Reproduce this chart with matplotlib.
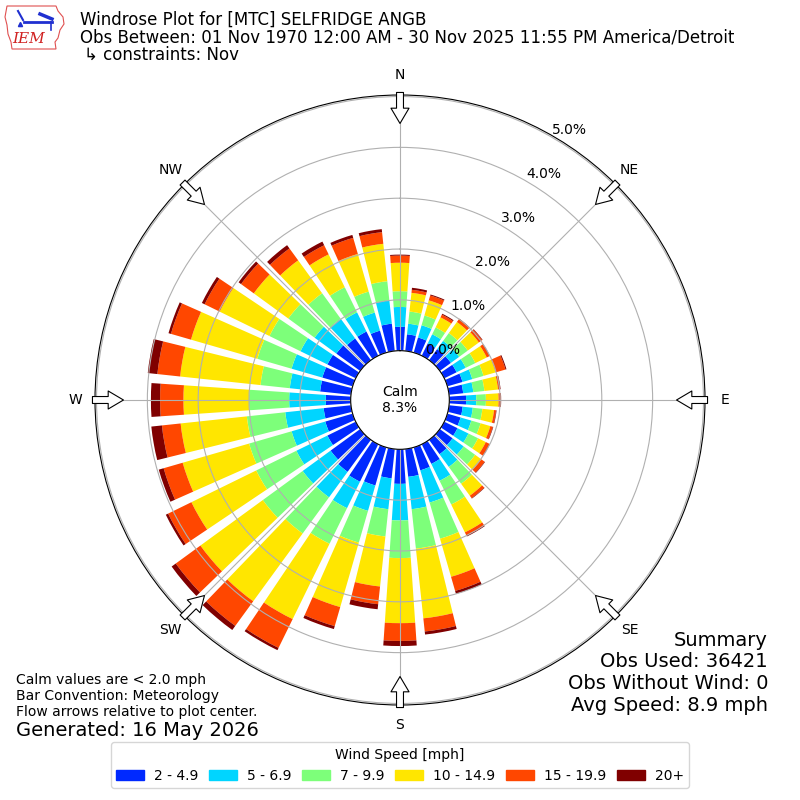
import numpy as np
import matplotlib
matplotlib.use("Agg")
import matplotlib.pyplot as plt
from matplotlib.patches import Patch, Polygon

# direction bins (deg, meteorological) and speed classes
directions = np.arange(0, 360, 10)
speed_labels = ["2 - 4.9", "5 - 6.9", "7 - 9.9", "10 - 14.9", "15 - 19.9", "20+"]

# frequency [%] per direction for each speed class
spd_2_5 = [0.47, 0.33, 0.31, 0.27, 0.27, 0.27, 0.27, 0.31, 0.28, 0.33, 0.27, 0.27,
           0.29, 0.31, 0.35, 0.43, 0.47, 0.55, 0.68, 0.58, 0.78, 0.82, 0.78, 0.72,
           0.62, 0.56, 0.54, 0.49, 0.61, 0.62, 0.62, 0.58, 0.53, 0.53, 0.45, 0.54]
spd_5_7 = [0.39, 0.21, 0.25, 0.20, 0.20, 0.20, 0.20, 0.20, 0.20, 0.20, 0.20, 0.22,
           0.24, 0.27, 0.31, 0.37, 0.66, 0.64, 0.72, 0.61, 0.52, 0.58, 0.62, 0.68,
           0.68, 0.69, 0.76, 0.72, 0.60, 0.63, 0.59, 0.53, 0.48, 0.42, 0.37, 0.46]
spd_7_10 = [0.31, 0.24, 0.20, 0.15, 0.19, 0.21, 0.21, 0.23, 0.22, 0.19, 0.19, 0.19,
            0.21, 0.28, 0.41, 0.52, 0.74, 0.78, 0.74, 0.54, 0.65, 0.78, 0.88, 0.97,
            0.88, 0.87, 0.76, 0.79, 0.58, 0.70, 0.68, 0.64, 0.62, 0.55, 0.43, 0.38]
spd_10_15 = [0.56, 0.37, 0.31, 0.22, 0.27, 0.27, 0.25, 0.25, 0.27, 0.25, 0.23, 0.20,
             0.17, 0.15, 0.29, 0.61, 0.78, 1.38, 1.28, 0.99, 1.32, 1.65, 1.65, 1.52,
             1.42, 1.36, 1.31, 1.29, 1.59, 1.36, 1.09, 0.84, 0.80, 0.72, 0.77, 0.74]
spd_15_20 = [0.14, 0.06, 0.10, 0.06, 0.07, 0.08, 0.06, 0.20, 0.04, 0.04, 0.04, 0.05,
             0.08, 0.08, 0.06, 0.07, 0.29, 0.26, 0.35, 0.35, 0.39, 0.63, 0.60, 0.60,
             0.51, 0.39, 0.37, 0.46, 0.45, 0.41, 0.33, 0.31, 0.29, 0.20, 0.33, 0.23]
spd_20p = [0.02, 0.04, 0.02, 0.02, 0.01, 0.01, 0.01, 0.02, 0.01, 0.01, 0.01, 0.01,
           0.01, 0.01, 0.01, 0.02, 0.06, 0.06, 0.10, 0.10, 0.06, 0.05, 0.10, 0.10,
           0.05, 0.10, 0.21, 0.18, 0.19, 0.05, 0.06, 0.06, 0.08, 0.08, 0.06, 0.06]

calm_pct = 8.3
rings = [0, 1, 2, 3, 4, 5]
compass = ["N", "NE", "E", "SE", "S", "SW", "W", "NW"]


def main():
    series = [spd_2_5, spd_5_7, spd_7_10, spd_10_15, spd_15_20, spd_20p]
    colors = plt.cm.jet(np.arange(1, 7) / 6.0)

    fig = plt.figure(figsize=(8, 8), dpi=100)
    ax = fig.add_axes([0.11875, 0.11875, 0.7625, 0.7625], projection="polar")
    ax.set_theta_zero_location("N")
    ax.set_theta_direction(-1)

    theta = np.radians(directions)
    bottom = np.zeros(len(directions))
    for vals, c in zip(series, colors):
        ax.bar(theta, vals, width=np.radians(7.8), bottom=bottom, color=c,
               linewidth=0, align="center")
        bottom += np.array(vals)

    ax.set_rorigin(-0.97)
    ax.set_ylim(0, 5.03)
    ax.set_rgrids(rings, labels=["%.1f%%" % r for r in rings], angle=30, fontsize=10)
    ax.set_thetagrids(range(0, 360, 45), labels=[""] * 8)
    ax.grid(True, color="#b0b0b0", lw=0.8)

    # compass labels and inward flow arrows
    for i, lab in enumerate(compass):
        t = np.radians(i * 45)
        ax.text(t, 5.42, lab, ha="center", va="center", fontsize=10)
        ax.annotate("", xy=(t, 4.47), xytext=(t, 5.08),
                    arrowprops=dict(arrowstyle="simple,head_length=0.55,head_width=0.65,tail_width=0.25",
                                    fc="white", ec="black", lw=0.8,
                                    mutation_scale=20, shrinkA=0, shrinkB=0),
                    annotation_clip=False, zorder=5)

    ax.text(0, -0.97, "Calm\n%.1f%%" % calm_pct, ha="center", va="center",
            fontsize=10, linespacing=1.1)

    # header
    fig.text(80 / 800, 1 - 20 / 800, "Windrose Plot for [MTC] SELFRIDGE ANGB",
             fontsize=12, va="center")
    fig.text(80 / 800, 1 - 38 / 800,
             "Obs Between: 01 Nov 1970 12:00 AM - 30 Nov 2025 11:55 PM America/Detroit",
             fontsize=12, va="center")
    fig.text(84 / 800, 1 - 55 / 800, "\u21b3 constraints: Nov", fontsize=12, va="center")

    # crude IEM logo
    lax = fig.add_axes([0, 1 - 54 / 800, 70 / 800, 54 / 800])
    lax.set_xlim(0, 70)
    lax.set_ylim(54, 0)
    lax.axis("off")
    iowa = [(7, 6), (56, 6), (58, 11), (63, 17), (64, 24), (60, 30), (58, 38),
            (55, 42), (56, 49), (12, 49), (11, 42), (8, 34), (7, 25), (5, 17), (7, 6)]
    lax.add_patch(Polygon(iowa, closed=True, fill=False, ec="#e05050", lw=0.8))
    lax.plot([24, 52], [22, 22], color="#2030d0", lw=2)
    lax.plot([18, 23], [11, 20], color="#2030d0", lw=1.5)
    lax.plot([40, 52], [14, 19], color="#2030d0", lw=2.5)
    lax.plot([51, 51], [22, 30], color="#2030d0", lw=1.2)
    lax.plot([20], [24], marker="^", color="#2030d0", ms=3)
    lax.text(29, 39, "IEM", color="#d02020", fontsize=11, family="serif",
             style="italic", ha="center", va="center")

    # notes
    fig.text(16 / 800, 1 - 680 / 800, "Calm values are < 2.0 mph", fontsize=10, va="center")
    fig.text(16 / 800, 1 - 696 / 800, "Bar Convention: Meteorology", fontsize=10, va="center")
    fig.text(16 / 800, 1 - 712 / 800, "Flow arrows relative to plot center.", fontsize=10, va="center")
    fig.text(16 / 800, 1 - 730 / 800, "Generated: 16 May 2026", fontsize=14, va="center")

    summary = ["Summary", "Obs Used: 36421", "Obs Without Wind: 0", "Avg Speed: 8.9 mph"]
    for i, s in enumerate(summary):
        fig.text(768 / 800, 1 - (640 + 21.7 * i) / 800, s, fontsize=14,
                 ha="right", va="center")

    handles = [Patch(color=c) for c in colors]
    fig.legend(handles, speed_labels, loc="lower center", bbox_to_anchor=(0.5, 0.006),
               ncol=6, title="Wind Speed [mph]", fontsize=10, title_fontsize=10,
               columnspacing=0.8, handletextpad=0.7)

    fig.savefig("out.png", dpi=100)


if __name__ == "__main__":
    main()
